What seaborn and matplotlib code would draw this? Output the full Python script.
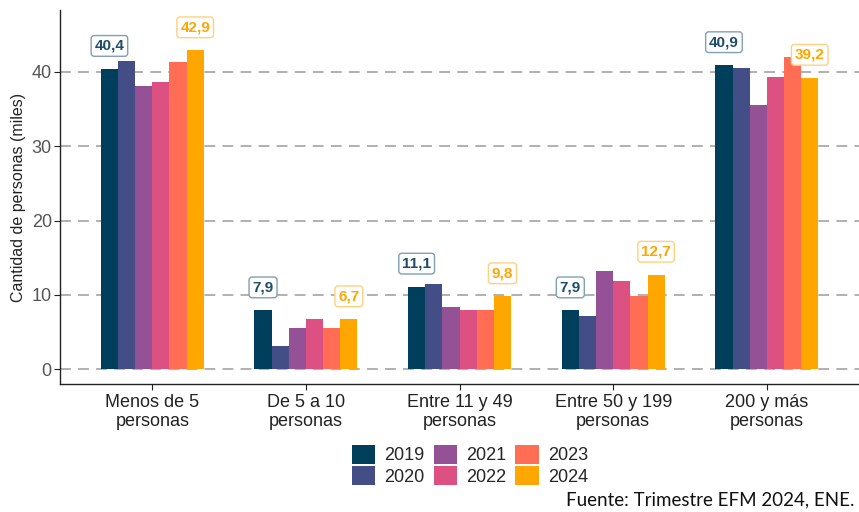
import numpy as np
import pandas as pd
import matplotlib
matplotlib.use("Agg")
import matplotlib.pyplot as plt
import seaborn as sns

# categories and series values (miles de personas)
categories = ["Menos de 5\npersonas", "De 5 a 10\npersonas", "Entre 11 y 49\npersonas",
              "Entre 50 y 199\npersonas", "200 y más\npersonas"]
years = ["2019", "2020", "2021", "2022", "2023", "2024"]
v2019 = [40.4, 7.9, 11.1, 7.9, 40.9]
v2020 = [41.5, 3.1, 11.5, 7.2, 40.5]
v2021 = [38.1, 5.5, 8.4, 13.2, 35.6]
v2022 = [38.7, 6.8, 8.0, 11.8, 39.3]
v2023 = [41.3, 5.6, 7.9, 9.9, 42.0]
v2024 = [42.9, 6.7, 9.8, 12.7, 39.2]
colors = ["#003f5c", "#444e86", "#955196", "#dd5182", "#ff6e54", "#ffa600"]

series = [v2019, v2020, v2021, v2022, v2023, v2024]
df = pd.DataFrame({
    "tamano": np.tile(categories, len(years)),
    "anio": np.repeat(years, len(categories)),
    "valor": np.concatenate(series),
})

sns.set_style("white")
plt.rcParams["font.family"] = ["Liberation Sans", "DejaVu Sans"]

fig, ax = plt.subplots(figsize=(8.59, 5.12), dpi=100)
fig.subplots_adjust(left=0.07, right=1.0, top=0.98, bottom=0.25)

sns.barplot(data=df, x="tamano", y="valor", hue="anio", palette=colors,
            order=categories, hue_order=years, width=0.67, linewidth=0,
            saturation=1, errorbar=None, ax=ax, zorder=3)

ax.set_ylim(-2, 48.3)
ax.set_xlim(-0.6, 4.6)
ax.set_yticks([0, 10, 20, 30, 40])
ax.yaxis.grid(True, linestyle=(0, (6, 4)), color="#aaaaaa", linewidth=1.3, zorder=0)
ax.xaxis.grid(False)
ax.set_axisbelow(True)
for s in ["top", "right"]:
    ax.spines[s].set_visible(False)
for s in ["left", "bottom"]:
    ax.spines[s].set_color("#222222")
    ax.spines[s].set_linewidth(1.0)
ax.tick_params(axis="y", labelsize=13, colors="#555555", length=4, left=True, pad=2)
ax.tick_params(axis="x", labelsize=13, labelcolor="#222222", length=4, bottom=True,
               color="#222222", pad=3)
ax.tick_params(axis="y", color="#222222")
ax.set_xlabel("")
ax.set_ylabel("Cantidad de personas (miles)", fontsize=11.5, color="#222222", labelpad=4)

# data labels for 2019 and 2024
fmt = lambda v: f"{v:.1f}".replace(".", ",")
first, last = ax.containers[0], ax.containers[-1]
for cont, vals, txtc, edgec in [(first, v2019, "#1f4e6b", "#7f9fb3"),
                                (last, v2024, "#ffa600", "#ffd080")]:
    for bar, v in zip(cont, vals):
        xc = bar.get_x() + bar.get_width() / 2
        ax.text(xc, v + 3.1, fmt(v), ha="center", va="center", fontsize=11,
                fontweight="bold", color=txtc, zorder=5,
                bbox=dict(boxstyle="round,pad=0.22,rounding_size=0.2",
                          fc="white", ec=edgec, lw=1.0))

handles, labels = ax.get_legend_handles_labels()
ax.legend(handles, labels, ncol=3, loc="upper center", bbox_to_anchor=(0.513, -0.12),
          frameon=False, fontsize=13, handlelength=1.3, handleheight=1.2,
          columnspacing=0.5, handletextpad=0.5, labelspacing=0.1)

fig.text(0.995, 0.008, "Fuente: Trimestre EFM 2024, ENE.", ha="right", va="bottom",
         fontsize=13.5, family=["Lato", "DejaVu Sans"], color="#111111")

fig.savefig("out.png", dpi=100)
